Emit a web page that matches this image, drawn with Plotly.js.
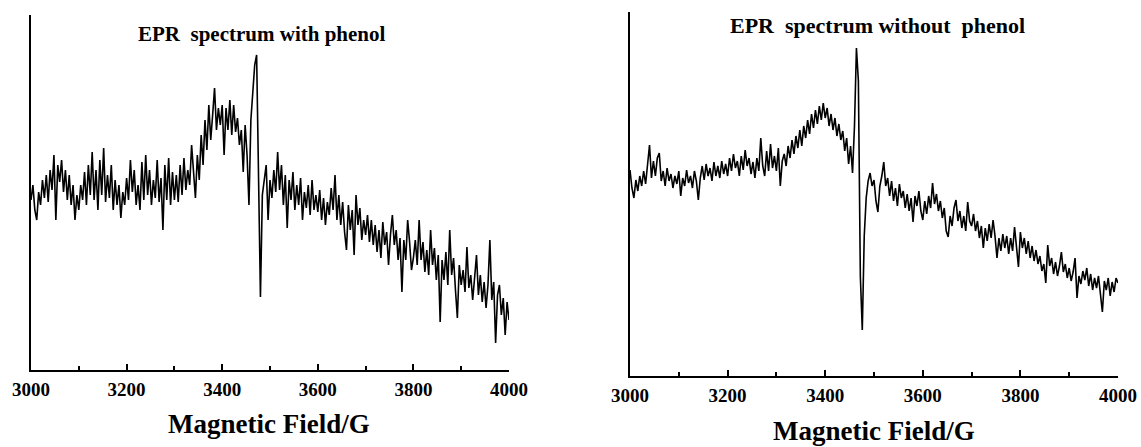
<!DOCTYPE html>
<html>
<head>
<meta charset="utf-8">
<script src="https://cdn.plot.ly/plotly-3.0.1.min.js"></script>
<style>html,body{margin:0;padding:0;background:#fff;}#chart{width:1141px;height:447px;}</style>
</head>
<body>
<div id="chart"></div>
<script>
// Magnetic field sampling (G)
var fieldStart = 3000;
var fieldStep = 4;

// EPR intensity (arb. units) with phenol, 3000..4000 G every 4 G
var withPhenol = [
  170,185,160,150,178,165,190,172,195,168,200,180,215,150,205,188,210,178,200,170,195,165,185,150,175,
  160,185,170,198,165,205,175,218,170,200,160,210,175,222,168,195,172,205,160,190,165,185,152,178,165,
  192,170,210,178,200,165,185,160,208,170,215,175,200,165,190,172,210,168,192,140,205,170,212,165,198,
  170,195,168,205,175,212,180,200,185,225,195,172,215,190,235,205,250,220,265,230,255,282,240,262,245,
  265,215,262,240,270,235,265,238,252,225,240,198,245,215,165,250,275,305,315,190,73,175,190,205,150,
  190,172,200,178,218,180,205,165,195,142,190,170,198,160,185,165,192,150,178,162,185,155,190,160,175,
  158,180,150,172,145,168,155,182,160,195,150,175,145,168,138,120,165,140,160,115,175,145,162,130,150,
  135,155,128,150,125,145,118,140,112,148,125,138,105,135,155,125,140,110,132,78,130,110,150,128,100,
  112,130,105,150,110,128,98,120,95,140,105,122,90,115,48,110,90,118,85,140,95,112,80,52,105,
  85,100,78,123,82,95,70,92,115,75,95,68,88,62,85,130,70,88,27,75,85,55,72,35,68,50
];

// EPR intensity (arb. units) without phenol, 3000..4000 G every 4 G
var withoutPhenol = [
  206,188,178,196,185,200,190,205,192,212,231,198,215,200,218,223,195,205,190,208,195,202,188,200,192,
  205,180,198,190,206,193,200,188,205,195,176,198,210,196,212,200,208,195,214,200,210,198,215,202,212,
  200,218,205,222,208,215,200,220,206,226,210,218,202,214,198,218,205,238,210,200,225,205,232,208,220,
  205,228,190,215,222,210,230,218,236,222,240,228,246,230,250,238,256,242,262,248,266,252,270,256,273,
  258,268,250,262,246,258,240,252,236,245,225,238,212,230,203,250,328,295,100,46,140,178,195,203,190,
  196,175,164,190,200,214,190,198,180,195,175,188,170,192,178,185,168,182,165,178,154,180,170,185,165,
  156,175,162,180,168,193,172,182,165,175,158,168,145,139,160,150,168,176,155,165,148,160,145,174,155,
  150,162,145,155,138,150,128,148,135,152,138,156,140,118,138,125,142,128,140,122,138,125,149,130,109,
  144,128,138,122,135,118,130,115,126,112,120,105,112,93,131,110,118,102,114,100,110,124,104,112,98,
  108,95,104,118,78,100,92,105,96,108,90,102,86,98,88,100,82,64,95,86,98,80,94,84,98,93
];

var xTickVals = [3000, 3200, 3400, 3600, 3800, 4000];
var xTickText = ["3000", "3200", "3400", "3600", "3800", "4000"];
var titleLeft = "EPR\u00A0\u00A0spectrum with phenol";
var titleRight = "EPR\u00A0\u00A0spectrum without\u00A0\u00A0phenol";
var xTitle = "Magnetic Field/G";

var W = 1141, H = 447;
function fx(p){ return p / W; }
function fy(p){ return 1 - p / H; }

var serif = "Liberation Serif";

var traces = [
  {type:'scatter', mode:'lines', y: withPhenol, x0: fieldStart, dx: fieldStep,
   xaxis:'x', yaxis:'y', line:{color:'#000', width:1.6}, hoverinfo:'skip'},
  {type:'scatter', mode:'lines', y: withoutPhenol, x0: fieldStart, dx: fieldStep,
   xaxis:'x2', yaxis:'y2', line:{color:'#000', width:1.6}, hoverinfo:'skip'}
];

function xAxis(dom, anchor){
  return {
    domain: dom, anchor: anchor, range:[3000, 4000],
    showgrid:false, zeroline:false, showline:true, linecolor:'#000', linewidth:2,
    ticks:'inside', ticklen:6, tickwidth:2, tickcolor:'#000',
    tickmode:'array', tickvals: xTickVals, ticktext: xTickText,
    minor:{ticks:'inside', dtick:100, tick0:3000, ticklen:4, tickwidth:2, tickcolor:'#000', showgrid:false},
    tickfont:{family: serif, size:19, color:'#000', weight:'bold'},
    ticklabelstandoff: 1,
    fixedrange:true
  };
}
function yAxis(dom, anchor, top){
  return {
    domain: dom, anchor: anchor, range:[0, top],
    showgrid:false, zeroline:false, showline:true, linecolor:'#000', linewidth:2,
    ticks:'', showticklabels:false, fixedrange:true
  };
}

var layout = {
  width: W, height: H,
  margin:{l:0, r:0, t:0, b:0, pad:0},
  paper_bgcolor:'#fff', plot_bgcolor:'#fff',
  showlegend:false,
  xaxis: xAxis([fx(31), fx(509)], 'y'),
  yaxis: yAxis([fy(370), fy(15)], 'x', 355),
  xaxis2: xAxis([fx(630), fx(1118)], 'y2'),
  yaxis2: yAxis([fy(376), fy(12)], 'x2', 364),
  annotations: [
    {xref:'paper', yref:'paper', x: fx(262), y: fy(34), text: titleLeft, showarrow:false,
     xanchor:'center', yanchor:'middle', font:{family: serif, size:21, color:'#000', weight:'bold'}},
    {xref:'paper', yref:'paper', x: fx(877), y: fy(26), text: titleRight, showarrow:false,
     xanchor:'center', yanchor:'middle', font:{family: serif, size:22, color:'#000', weight:'bold'}},
    {xref:'paper', yref:'paper', x: fx(269), y: fy(424), text: xTitle, showarrow:false,
     xanchor:'center', yanchor:'middle', font:{family: serif, size:27, color:'#000', weight:'bold'}},
    {xref:'paper', yref:'paper', x: fx(874), y: fy(431), text: xTitle, showarrow:false,
     xanchor:'center', yanchor:'middle', font:{family: serif, size:27, color:'#000', weight:'bold'}}
  ]
};

Plotly.newPlot('chart', traces, layout, {staticPlot:true, displayModeBar:false});
</script>
</body>
</html>
